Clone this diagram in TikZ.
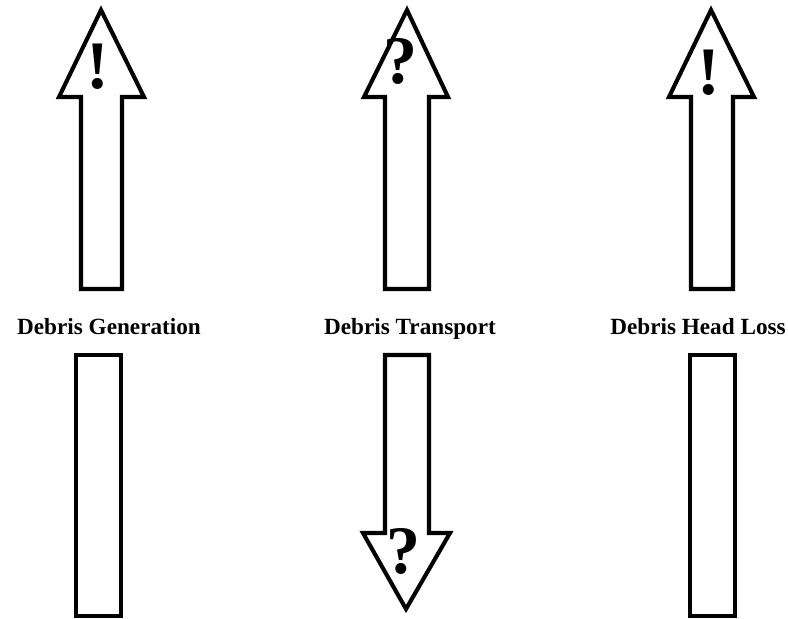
\documentclass[tikz,border=0pt]{standalone}
\usepackage{fontspec}
\setmainfont{Liberation Serif}
\begin{document}
\begin{tikzpicture}[x=1pt,y=-1pt,
  shapeline/.style={draw=black,fill=white,line width=4.1pt,line join=miter,miter limit=10},
  lbl/.style={font=\bfseries\fontsize{23.2}{26}\selectfont,inner sep=0pt,anchor=base},
  bigmark/.style={font=\bfseries\fontsize{68}{70}\selectfont,inner sep=0pt,anchor=center}]
\useasboundingbox (0,0) rectangle (788,619);
% upper arrows
\draw[shapeline] (81,289) -- (81,97) -- (59,97) -- (101,10) -- (144,97) -- (122,97) -- (122,289) -- cycle;
\draw[shapeline] (385,289) -- (385,97) -- (364,97) -- (407,10) -- (448,97) -- (429,97) -- (429,289) -- cycle;
\draw[shapeline] (691,289) -- (691,97) -- (669,97) -- (711,10) -- (754,97) -- (733,97) -- (733,289) -- cycle;
% lower shapes
\draw[shapeline] (76,355) rectangle (121,616);
\draw[shapeline] (385,355) -- (385,533) -- (363,533) -- (406,609) -- (450,533) -- (429,533) -- (429,355) -- cycle;
\draw[shapeline] (690,355) rectangle (735,616);
% marks
\node[bigmark] (m1) at (98,66.5) {!};
\node[bigmark] (m2) at (400,61) {?};
\node[bigmark] (m3) at (709,73) {!};
\node[bigmark] (m4) at (403,551) {?};
% labels
\node[lbl] (l1) at (109,334) {Debris Generation};
\node[lbl] (l2) at (410,334) {Debris Transport};
\node[lbl] (l3) at (698,334) {Debris Head Loss};
\end{tikzpicture}
\end{document}
